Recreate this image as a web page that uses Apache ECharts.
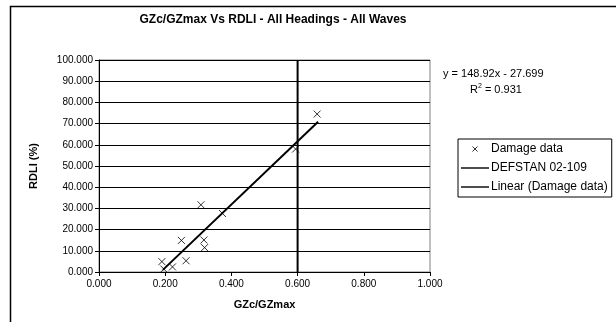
<!DOCTYPE html>
<html>
<head>
<meta charset="utf-8">
<script src="https://cdn.jsdelivr.net/npm/echarts@6/dist/echarts.min.js"></script>
<style>
  html, body { margin: 0; padding: 0; background: #fff; }
  #chart { width: 616px; height: 322px; }
</style>
</head>
<body>
<div id="chart"></div>
<script>
// data
const damageX = [0.190, 0.196, 0.222, 0.249, 0.263, 0.308, 0.317, 0.319, 0.373, 0.594, 0.659];
const damageY = [4.9, 1.4, 2.4, 14.9, 5.3, 31.7, 15.1, 11.5, 27.6, 58.0, 74.5];
const defstanX = [0.6, 0.6];
const defstanY = [0, 100];
const trendX = [0.193, 0.662];
const trendY = [1.0, 70.9];
const xTicks = ['0.000', '0.200', '0.400', '0.600', '0.800', '1.000'];
const yTicks = ['0.000', '10.000', '20.000', '30.000', '40.000', '50.000', '60.000', '70.000', '80.000', '90.000', '100.000'];

const font = 'Arial, "Liberation Sans", sans-serif';
const cross = 'path://M0,0L10,10M10,0L0,10';
// legend icons: extra moveTo points keep the drawn part small inside the box
const crossIcon = 'path://M0,0M2.5,2.5L7.5,7.5M7.5,2.5L2.5,7.5M10,10';
const lineIcon = 'path://M0,0M0,4.3L28,4.3L28,5.7L0,5.7ZM28,10';

const chart = echarts.init(document.getElementById('chart'));

const option = {
  animation: false,
  backgroundColor: '#fff',
  title: {
    text: 'GZc/GZmax Vs RDLI - All Headings - All Waves',
    left: 268,
    top: 9,
    textAlign: 'center',
    textStyle: { fontFamily: font, fontSize: 12, fontWeight: 'bold', color: '#000' }
  },
  graphic: [
    {
      type: 'rect',
      shape: { x: 10.5, y: 6.5, width: 700, height: 400 },
      style: { fill: 'none', stroke: '#000', lineWidth: 1.5 },
      silent: true
    },
    {
      type: 'text',
      left: 443,
      top: 68,
      style: { text: 'y = 148.92x - 27.699', font: '11px ' + font, fill: '#000' }
    },
    {
      type: 'text',
      left: 470,
      top: 83,
      style: {
        text: 'R{s|2} = 0.931',
        font: '11px ' + font,
        fill: '#000',
        rich: { s: { fontSize: 7, verticalAlign: 'top', padding: [0, 0, 6, 0] } }
      }
    }
  ],
  legend: {
    orient: 'vertical',
    left: 458,
    top: 139,
    padding: [4, 4, 4, 3],
    itemWidth: 28,
    itemHeight: 10,
    itemGap: 7,
    borderColor: '#000',
    borderWidth: 1,
    textStyle: { fontFamily: font, fontSize: 12, color: '#000', padding: [0, 0, 0, -3] },
    data: [
      { name: 'Damage data', icon: crossIcon, itemStyle: { color: 'transparent', borderColor: '#000', borderWidth: 1 } },
      { name: 'DEFSTAN 02-109', icon: lineIcon, itemStyle: { color: '#000', borderWidth: 0 } },
      { name: 'Linear (Damage data)', icon: lineIcon, itemStyle: { color: '#000', borderWidth: 0 } }
    ]
  },
  grid: {
    left: 99,
    right: 186,
    top: 60,
    bottom: 50,
    show: true,
    borderColor: '#808080',
    borderWidth: 1
  },
  xAxis: {
    type: 'value',
    min: 0,
    max: 1,
    interval: 0.2,
    name: 'GZc/GZmax',
    nameLocation: 'middle',
    nameGap: 27,
    nameTextStyle: { fontFamily: font, fontSize: 11, fontWeight: 'bold', color: '#000' },
    axisLine: { lineStyle: { color: '#000', width: 1 } },
    axisTick: { show: true, length: 4, lineStyle: { color: '#000' } },
    axisLabel: {
      fontFamily: font, fontSize: 10, color: '#000', margin: 7,
      formatter: (v) => xTicks[Math.round(v / 0.2)]
    },
    splitLine: { show: false }
  },
  yAxis: {
    type: 'value',
    min: 0,
    max: 100,
    interval: 10,
    name: 'RDLI (%)',
    nameLocation: 'middle',
    nameGap: 60,
    nameTextStyle: { fontFamily: font, fontSize: 11, fontWeight: 'bold', color: '#000' },
    axisLine: { show: true, lineStyle: { color: '#000', width: 1 } },
    axisTick: { show: true, length: 4, lineStyle: { color: '#000' } },
    axisLabel: {
      fontFamily: font, fontSize: 10, color: '#000', margin: 6,
      formatter: (v) => yTicks[Math.round(v / 10)]
    },
    splitLine: { show: true, lineStyle: { color: '#000', width: 1 } }
  },
  series: [
    {
      name: 'Damage data',
      type: 'scatter',
      symbol: cross,
      symbolSize: 7,
      itemStyle: { color: 'transparent', borderColor: '#000', borderWidth: 1 },
      data: damageX.map((x, i) => [x, damageY[i]]),
      z: 5
    },
    {
      name: 'DEFSTAN 02-109',
      type: 'line',
      symbol: 'none',
      lineStyle: { color: '#000', width: 2 },
      itemStyle: { color: '#000' },
      data: defstanX.map((x, i) => [x, defstanY[i]])
    },
    {
      name: 'Linear (Damage data)',
      type: 'line',
      symbol: 'none',
      lineStyle: { color: '#000', width: 2 },
      itemStyle: { color: '#000' },
      data: trendX.map((x, i) => [x, trendY[i]])
    }
  ]
};

chart.setOption(option);
window.addEventListener('resize', () => chart.resize());
</script>
</body>
</html>
